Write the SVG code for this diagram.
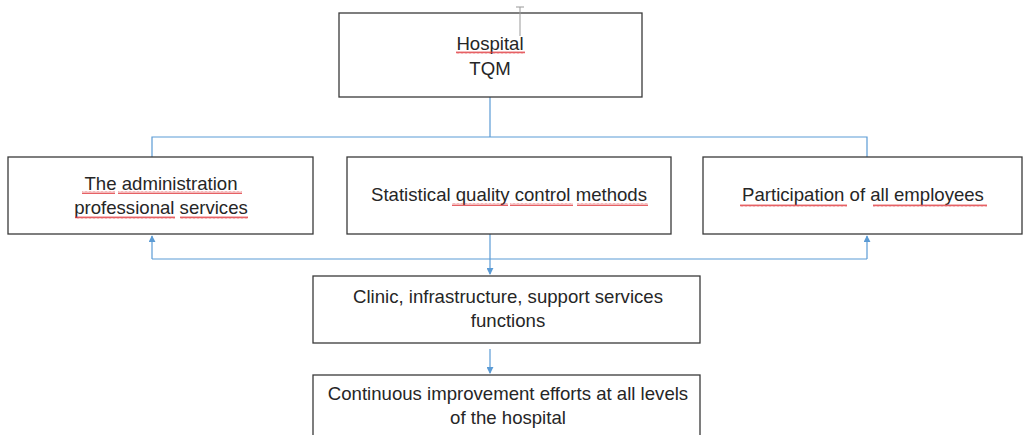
<svg xmlns="http://www.w3.org/2000/svg" width="1027" height="435" viewBox="0 0 1027 435">
<defs>
<style>
.box{fill:#fff;stroke:#3a3a3a;stroke-width:1.3}
.t{font-family:"Liberation Sans",Arial,sans-serif;font-size:18.6px;fill:#262626;text-anchor:middle}
.c{fill:none;stroke:#5b9bd5;stroke-width:1.2}
.sq{fill:url(#wave)}
</style>
<pattern id="wave" width="4" height="3" patternUnits="userSpaceOnUse">
<path d="M0,2.5 L1,0.5 L2,2.5 L3,0.5 L4,2.5" fill="none" stroke="#e0393e" stroke-width="0.8"/>
</pattern>
<marker id="ah" viewBox="0 0 8 8" refX="7" refY="4" markerWidth="7" markerHeight="7" markerUnits="userSpaceOnUse" orient="auto">
<path d="M0,0 L8,4 L0,8 z" fill="#5b9bd5"/>
</marker>
</defs>
<rect width="1027" height="435" fill="#fff"/>
<g id="connectors">
<path class="c" d="M490,97 V137 M152,157 V137 H867 V157"/>
<path class="c" d="M490,234 V274" marker-end="url(#ah)"/>
<path class="c" d="M152,259 H867"/>
<path class="c" d="M152,259 V236" marker-end="url(#ah)"/>
<path class="c" d="M867,259 V236" marker-end="url(#ah)"/>
<path class="c" d="M490,349 V373" marker-end="url(#ah)"/>
</g>
<g id="hospital-tqm">
<rect class="box" x="339" y="13" width="303" height="84"/>
<text class="t" x="490" y="50">Hospital</text>
<text class="t" x="490" y="75">TQM</text>
<rect class="sq" x="456" y="51" width="69" height="3"/>
</g>
<g id="cursor">
<path d="M520,7 V36 M516,7 H524" stroke="#999" stroke-width="1" fill="none"/>
</g>
<g id="administration">
<rect class="box" x="8" y="157" width="305" height="77"/>
<text class="t" x="161" y="190">The administration</text>
<text class="t" x="161" y="214">professional services</text>
<rect class="sq" x="82" y="191" width="33" height="3"/>
<rect class="sq" x="118" y="191" width="124" height="3"/>
<rect class="sq" x="75" y="216" width="100" height="3"/>
<rect class="sq" x="180" y="216" width="68" height="3"/>
</g>
<g id="statistical">
<rect class="box" x="347" y="157" width="324" height="77"/>
<text class="t" x="509" y="201">Statistical quality control methods</text>
<rect class="sq" x="452" y="203" width="56" height="3"/>
<rect class="sq" x="510" y="203" width="63" height="3"/>
<rect class="sq" x="577" y="203" width="71" height="3"/>
</g>
<g id="participation">
<rect class="box" x="703" y="157" width="319" height="77"/>
<text class="t" x="863" y="201">Participation of all employees</text>
<rect class="sq" x="740" y="204" width="107" height="3"/>
<rect class="sq" x="873" y="204" width="114" height="3"/>
</g>
<g id="clinic">
<rect class="box" x="313" y="276" width="387" height="67"/>
<text class="t" x="508" y="303">Clinic, infrastructure, support services</text>
<text class="t" x="508" y="327">functions</text>
</g>
<g id="continuous">
<rect class="box" x="313" y="375" width="387" height="70"/>
<text class="t" x="508" y="400">Continuous improvement efforts at all levels</text>
<text class="t" x="508" y="424">of the hospital</text>
</g>
</svg>
